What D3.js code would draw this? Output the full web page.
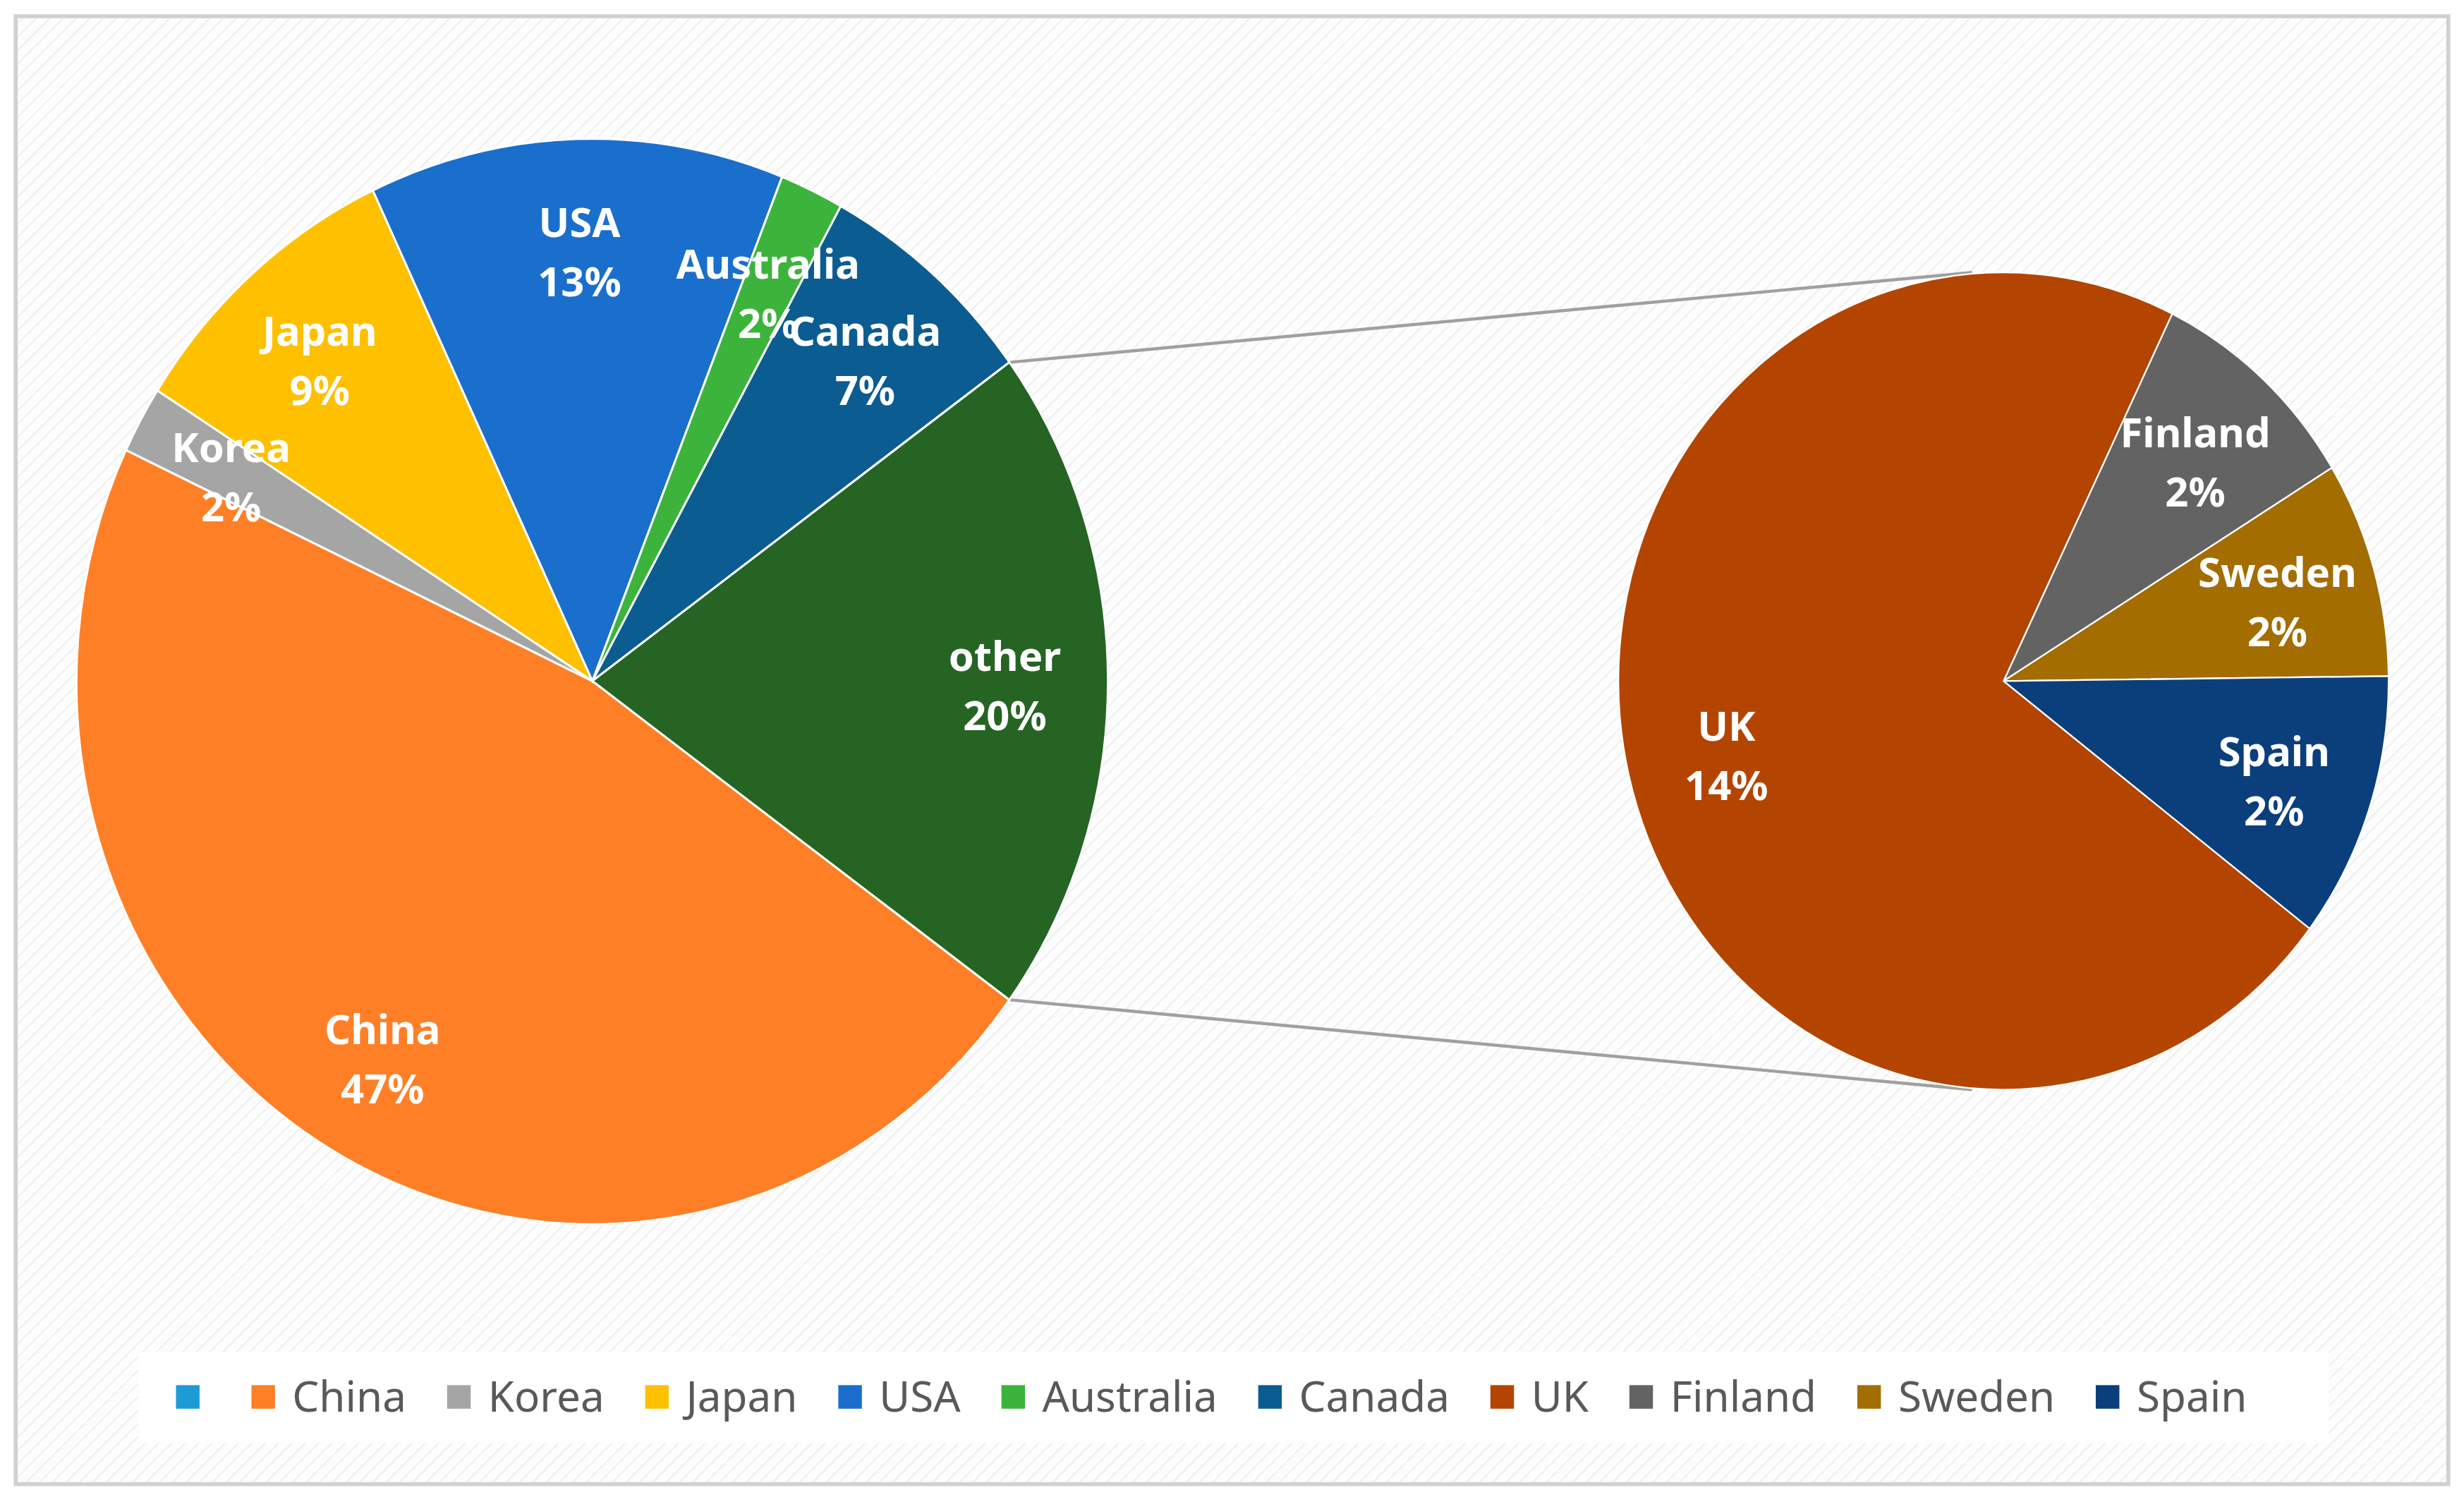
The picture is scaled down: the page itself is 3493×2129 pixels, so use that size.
<!DOCTYPE html>
<html><head><meta charset="utf-8">
<script src="https://cdn.jsdelivr.net/npm/d3@7"></script>
<style>body{margin:0;background:#fff}</style>
</head><body>
<svg id="chart" width="3493" height="2129" viewBox="0 0 1568 955"></svg>
<script>
// main pie
const mainNames = ["China","Korea","Japan","USA","Australia","Canada","other"]
const mainValues = [47, 2, 9, 13, 2, 7, 20]
const mainLabels = ["47%","2%","9%","13%","2%","7%","20%"]
const mainColors = ["#ff7f27","#a5a5a5","#ffc000","#1a6fcc","#3cb43c","#0b5c91","#256423"]
// secondary pie (breakdown of "other")
const subNames = ["Finland","Sweden","Spain","UK"]
const subValues = [1.8, 1.7, 2.1, 14.3]
const subLabels = ["2%","2%","2%","14%"]
const subColors = ["#636363","#a36d00","#0b3f7c","#b34500"]
// legend
const legendNames = ["","China","Korea","Japan","USA","Australia","Canada","UK","Finland","Sweden","Spain"]
const legendColors = ["#1e9ad6","#ff7f27","#a5a5a5","#ffc000","#1a6fcc","#3cb43c","#0b5c91","#b34500","#636363","#a36d00","#0b3f7c"]

const svg = d3.select("#chart")
const defs = svg.append("defs")
const pat = defs.append("pattern").attr("id","hatch").attr("patternUnits","userSpaceOnUse")
  .attr("width",6).attr("height",6).attr("patternTransform","rotate(45)")
pat.append("rect").attr("width",6).attr("height",6).attr("fill","#fdfdfd")
pat.append("line").attr("x1",0).attr("y1",0).attr("x2",0).attr("y2",6).attr("stroke","#ececec").attr("stroke-width",1.5)

svg.append("rect").attr("x",0).attr("y",0).attr("width",1568).attr("height",955).attr("fill","#fff")
svg.append("rect").attr("x",10).attr("y",10).attr("width",1548).attr("height",934)
  .attr("fill","url(#hatch)").attr("stroke","#d0d0d0").attr("stroke-width",2.5)

const deg = Math.PI/180
const arc = d3.arc().innerRadius(0).outerRadius(1)

function drawPie(cx, cy, rx, ry, names, values, labels, colors, start, labelR){
  const pie = d3.pie().sort(null).startAngle(start*deg).endAngle((start+360)*deg)
  const arcs = pie(values)
  const g = svg.append("g").attr("transform",`translate(${cx},${cy})`)
  g.append("g").attr("transform",`scale(${rx},${ry})`)
    .selectAll("path").data(arcs).join("path")
    .attr("d", arc).attr("fill",(d,i)=>colors[i])
    .attr("stroke","#fff").attr("stroke-width",0.004)
  const lab = g.selectAll("text").data(arcs).join("text")
    .attr("text-anchor","middle")
    .attr("font-family","'Noto Sans', 'Open Sans', sans-serif")
    .attr("font-weight","bold").attr("font-size",26).attr("fill","#fff")
    .attr("transform",d=>{
      const a=(d.startAngle+d.endAngle)/2
      return `translate(${Math.sin(a)*rx*labelR},${-Math.cos(a)*ry*labelR})`
    })
  lab.append("tspan").attr("x",0).attr("dy","-0.25em").text((d,i)=>names[i])
  lab.append("tspan").attr("x",0).attr("dy","1.45em").text((d,i)=>labels[i])
  return arcs
}

// connector lines
const mcx=377, mcy=433, mrx=328, mry=345
const scx=1275, scy=433, srx=245, sry=260
const conn = svg.append("g").attr("stroke","#a0a0a0").attr("stroke-width",2)
const otherHalf = mainValues[6]/d3.sum(mainValues)*180*deg
;[-1,1].forEach(s=>{
  const a = Math.PI/2 + s*otherHalf
  conn.append("line")
    .attr("x1", mcx+Math.sin(a)*mrx).attr("y1", mcy-Math.cos(a)*mry)
    .attr("x2", scx-20).attr("y2", scy + s*sry)
})

const otherEnd = 90 + mainValues[6]/d3.sum(mainValues)*180
drawPie(mcx,mcy,mrx,mry,mainNames,mainValues,mainLabels,mainColors,otherEnd,0.8)
drawPie(scx,scy,srx,sry,subNames,subValues,subLabels,subColors,26,0.74)

// legend
svg.append("rect").attr("x",88).attr("y",860).attr("width",1394).attr("height",58).attr("fill","#fff")
const lg = svg.append("g").attr("font-family","'Noto Sans', 'Open Sans', sans-serif").attr("font-size",27).attr("fill","#595959")
let x = 112
legendNames.forEach((n,i)=>{
  lg.append("rect").attr("x",x).attr("y",881).attr("width",15).attr("height",15).attr("fill",legendColors[i])
  const t = lg.append("text").attr("x",x+26).attr("y",898).text(n)
  const w = n ? t.node().getComputedTextLength() : 0
  x += 26 + w + (n ? 26 : 22)
})
</script>
</body></html>
